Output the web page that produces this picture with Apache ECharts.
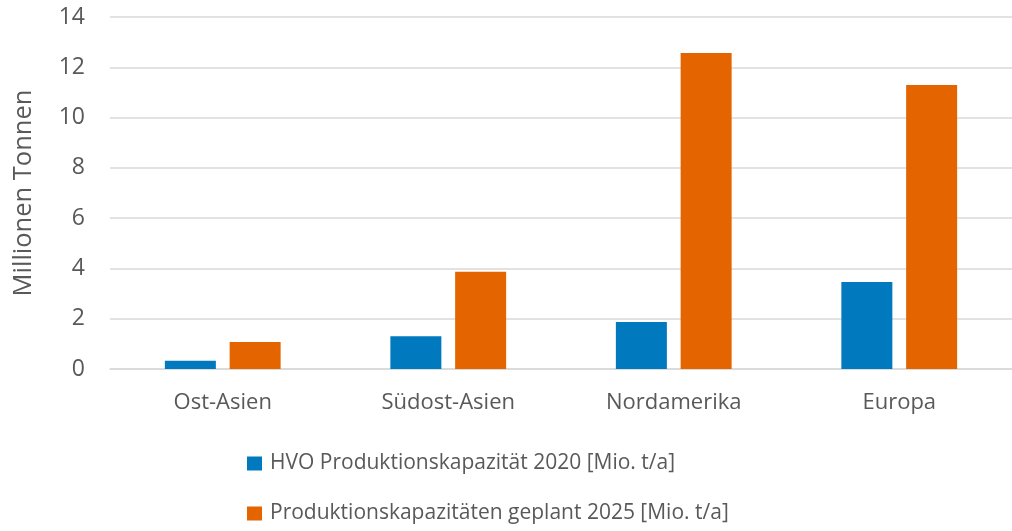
<!DOCTYPE html>
<html>
<head>
<meta charset="utf-8">
<script src="https://cdn.jsdelivr.net/npm/echarts@6/dist/echarts.min.js"></script>
<style>
  html, body { margin: 0; padding: 0; background: #fff; }
  #chart { width: 1012px; height: 531px; }
</style>
</head>
<body>
<div id="chart"></div>
<script>
// Regionen und Kapazitäten (Mio. t/a)
const REGIONS = ['Ost-Asien', 'Südost-Asien', 'Nordamerika', 'Europa'];
const SERIES_NAMES = ['HVO Produktionskapazität 2020 [Mio. t/a]', 'Produktionskapazitäten geplant 2025 [Mio. t/a]'];
const CAPACITY_2020 = [0.33, 1.3, 1.87, 3.46];
const PLANNED_2025 = [1.07, 3.87, 12.57, 11.3];

const chart = echarts.init(document.getElementById('chart'));
const textColor = '#595959';
const font = '"Open Sans", "Noto Sans", sans-serif';

// eine Legende pro Zeile, damit die Einträge untereinander stehen
const legendRow = (name, top) => ({
  left: 247,
  top: top,
  padding: 0,
  itemWidth: 15,
  itemHeight: 14,
  icon: 'rect',
  textStyle: { color: textColor, fontSize: 21, fontFamily: font, padding: [0, 0, 0, 3] },
  data: [name]
});

chart.setOption({
  animation: false,
  textStyle: { fontFamily: font },
  grid: { left: 110, top: 17, width: 910, height: 352, containLabel: false },
  legend: [
    legendRow(SERIES_NAMES[0], 453),
    legendRow(SERIES_NAMES[1], 503)
  ],
  xAxis: {
    type: 'category',
    data: REGIONS,
    axisLine: { lineStyle: { color: '#d9d9d9', width: 1.5 } },
    axisTick: { show: false },
    axisLabel: { color: textColor, fontSize: 22, margin: 23, fontFamily: font }
  },
  yAxis: {
    type: 'value',
    min: 0,
    max: 14,
    interval: 2,
    name: 'Millionen Tonnen',
    nameLocation: 'middle',
    nameGap: 73,
    nameTextStyle: { color: textColor, fontSize: 25.5, fontFamily: font },
    axisLine: { show: false },
    axisTick: { show: false },
    axisLabel: { color: textColor, fontSize: 23, margin: 25, fontFamily: font },
    splitLine: { lineStyle: { color: '#d9d9d9', width: 1.5 } }
  },
  series: [
    {
      name: SERIES_NAMES[0],
      type: 'bar',
      data: CAPACITY_2020,
      barWidth: 51,
      barGap: '27%',
      itemStyle: { color: '#0079bf' }
    },
    {
      name: SERIES_NAMES[1],
      type: 'bar',
      data: PLANNED_2025,
      barWidth: 51,
      barGap: '27%',
      itemStyle: { color: '#e46500' }
    }
  ]
});
</script>
</body>
</html>
